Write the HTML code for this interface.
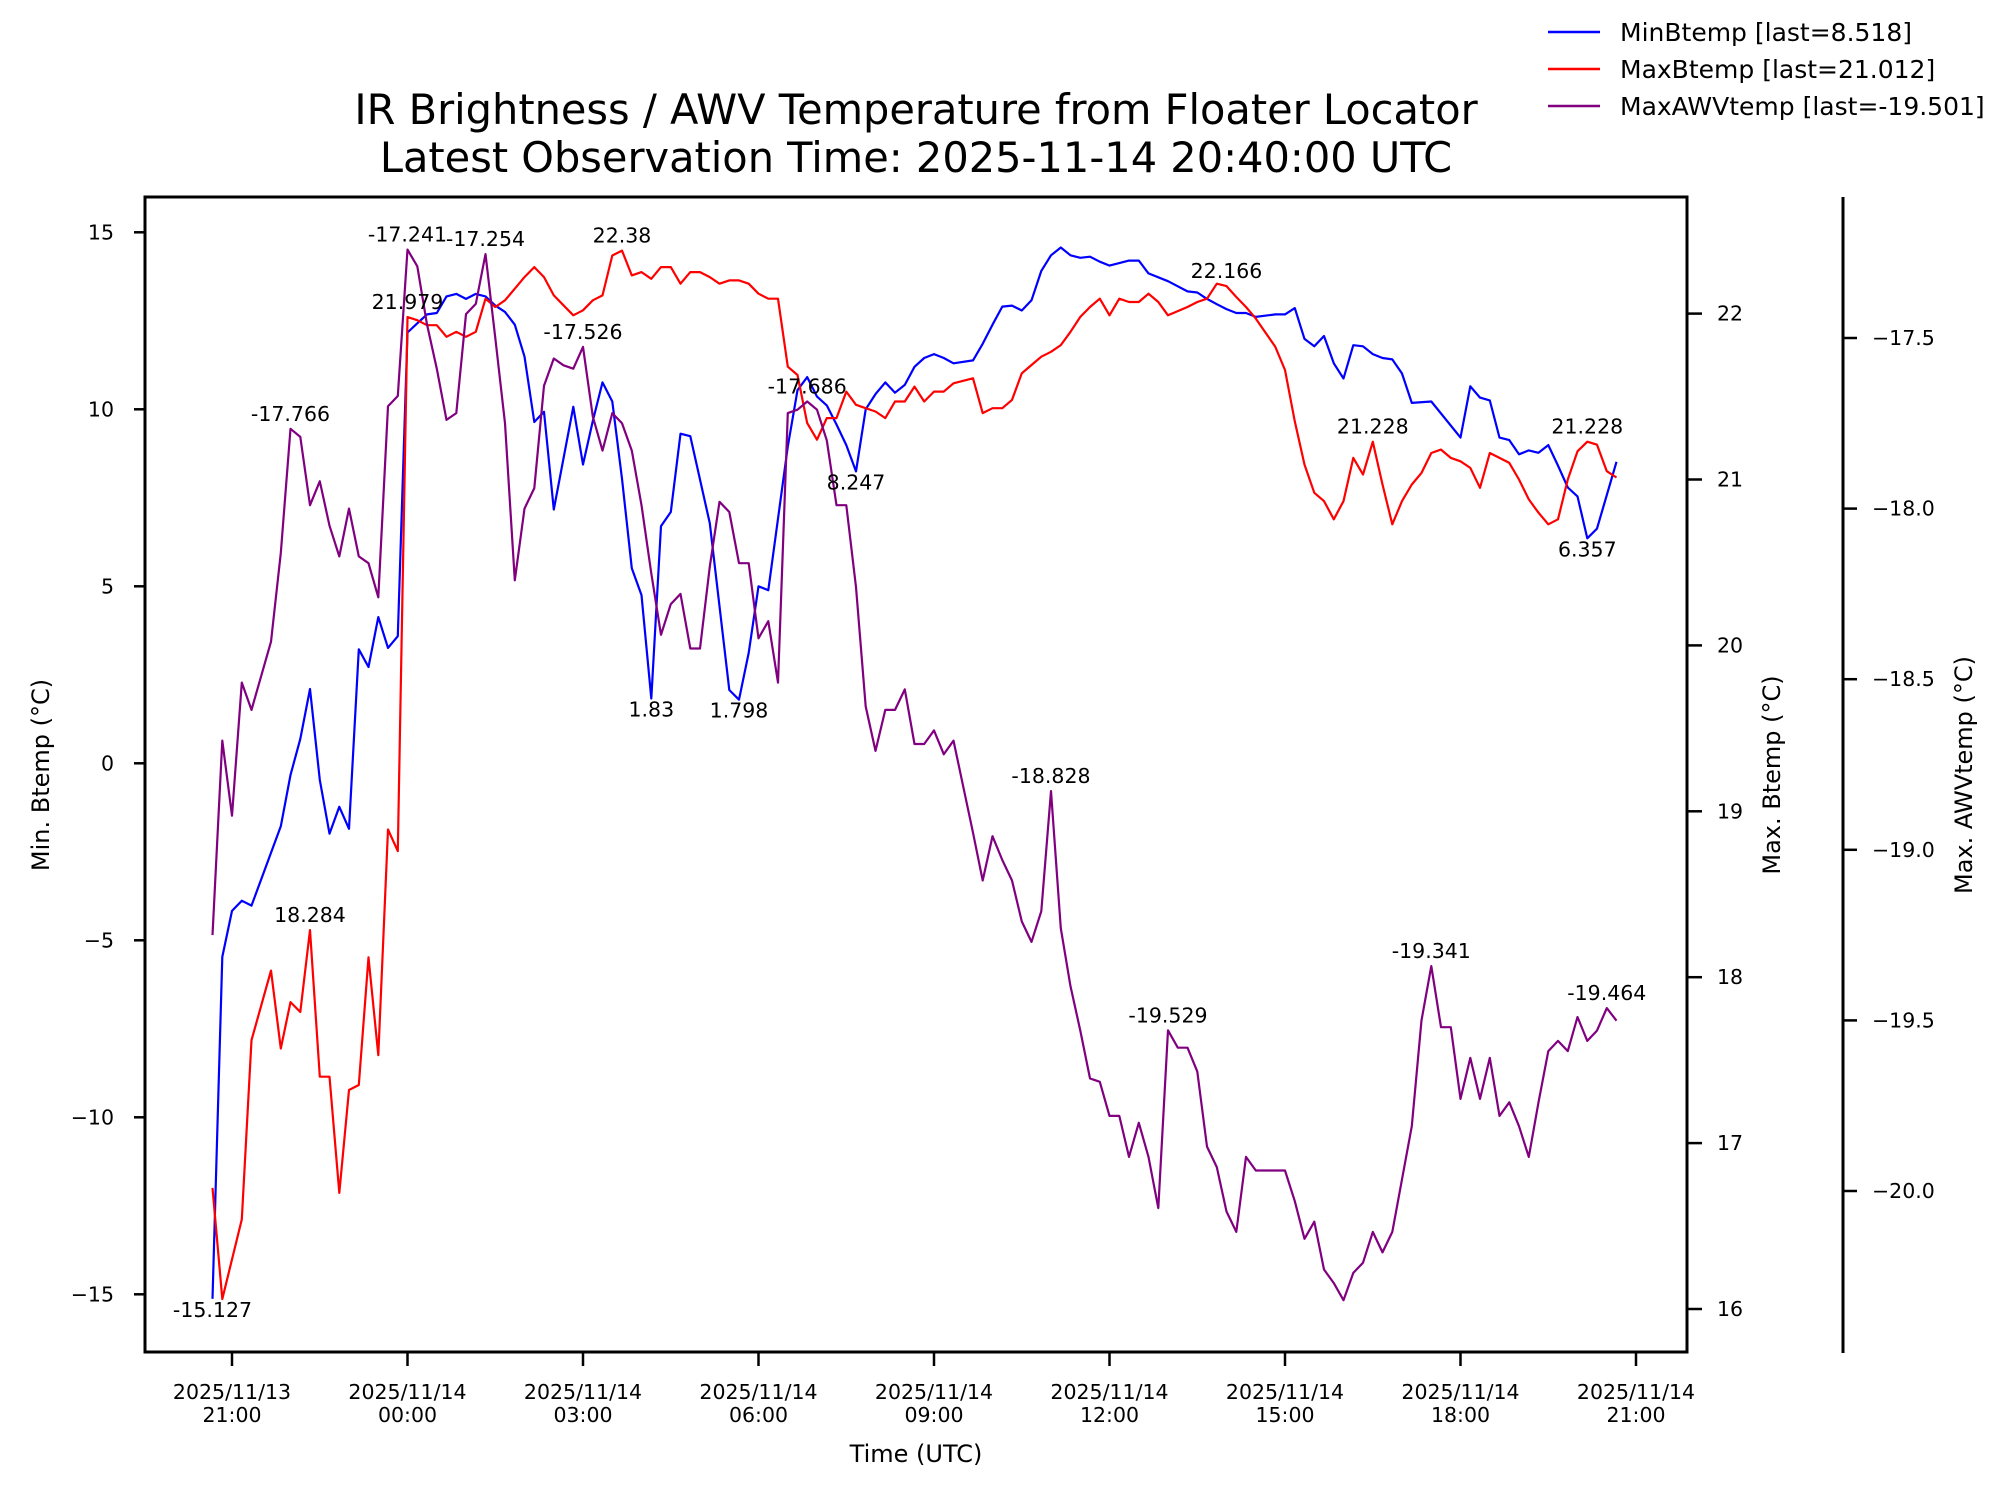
<!DOCTYPE html>
<html><head><meta charset="utf-8">
<style>
html,body{margin:0;padding:0;background:#fff;}
svg{display:block;font-family:"DejaVu Sans","Liberation Sans",sans-serif;}
</style></head>
<body>
<svg id="chart" width="2005" height="1495" viewBox="0 0 2005 1495" xmlns="http://www.w3.org/2000/svg">
<rect width="2005" height="1495" fill="#fff"/>
<text x="916" y="124" font-size="41.5" text-anchor="middle">IR Brightness / AWV Temperature from Floater Locator</text>
<text x="916" y="172" font-size="41.5" text-anchor="middle">Latest Observation Time: 2025-11-14 20:40:00 UTC</text>
<g id="legend">
<line x1="1548" y1="32" x2="1600" y2="32" stroke="#0000ff" stroke-width="2.5"/>
<text x="1620" y="41" font-size="25">MinBtemp [last=8.518]</text>
<line x1="1548" y1="69" x2="1600" y2="69" stroke="#ff0000" stroke-width="2.5"/>
<text x="1620" y="78" font-size="25">MaxBtemp [last=21.012]</text>
<line x1="1548" y1="106" x2="1600" y2="106" stroke="#800080" stroke-width="2.5"/>
<text x="1620" y="115" font-size="25">MaxAWVtemp [last=-19.501]</text>
</g>
<defs><clipPath id="plotclip"><rect x="145" y="197" width="1542" height="1155"/></clipPath></defs>
<g id="series" clip-path="url(#plotclip)"></g>
<g id="annots"></g>
<g id="axes"></g>
<text x="916" y="1462" font-size="24" text-anchor="middle">Time (UTC)</text>
<text transform="translate(49,775) rotate(-90)" font-size="24" text-anchor="middle">Min. Btemp (°C)</text>
<text transform="translate(1780,775) rotate(-90)" font-size="24" text-anchor="middle">Max. Btemp (°C)</text>
<text transform="translate(1972,775) rotate(-90)" font-size="24" text-anchor="middle">Max. AWVtemp (°C)</text>
</svg>
<script>
// ---- data (index = 10-minute steps from 2025/11/13 20:40 UTC) ----
const minIdx = [0,1,2,3,4,7,8,9,10,11,12,13,14,15,16,17,18,19,20,21,22,23,24,25,26,27,28,29,30,31,32,33,34,35,37,38,39,40,41,42,43,44,45,46,47,48,49,51,53,54,55,56,57,59,60,61,62,63,64,65,66,67,68,69,70,71,72,73,74,75,76,78,79,80,81,82,83,84,85,86,87,88,89,90,91,92,93,94,95,96,98,100,101,102,103,104,105,106,107,109,110,111,112,113,114,115,116,117,118,119,120,121,122,123,125,128,129,130,131,132,133,134,135,136,137,138,139,140,141,142,144];
const minVals = [-15.127,-5.47,-4.17,-3.88,-4.02,-1.78,-0.33,0.69,2.10,-0.47,-1.99,-1.23,-1.85,3.22,2.72,4.13,3.26,3.59,12.17,12.43,12.68,12.72,13.19,13.26,13.12,13.26,13.19,12.93,12.75,12.39,11.49,9.64,9.93,7.17,10.07,8.44,9.67,10.76,10.22,8.04,5.51,4.75,1.83,6.70,7.10,9.31,9.24,6.78,2.07,1.798,3.12,5.00,4.89,8.95,10.54,10.91,10.36,10.11,9.57,8.99,8.247,10.00,10.43,10.76,10.47,10.69,11.20,11.45,11.56,11.45,11.30,11.38,11.85,12.39,12.90,12.93,12.79,13.08,13.91,14.35,14.57,14.35,14.28,14.31,14.17,14.06,14.13,14.20,14.20,13.84,13.62,13.33,13.30,13.12,12.97,12.83,12.72,12.72,12.61,12.68,12.68,12.86,11.99,11.78,12.07,11.30,10.87,11.81,11.78,11.56,11.45,11.41,11.01,10.18,10.22,9.20,10.65,10.33,10.25,9.20,9.13,8.73,8.84,8.77,8.99,8.41,7.79,7.54,6.357,6.63,8.518];
const maxIdx = [0,1,3,4,6,7,8,9,10,11,12,13,14,15,16,17,18,19,20,21,22,23,24,25,26,27,28,29,30,31,32,33,34,35,36,37,38,39,40,41,42,43,44,45,46,47,48,49,50,51,52,53,54,55,56,57,58,59,60,61,62,63,64,65,66,67,68,69,70,71,72,73,74,75,76,78,79,80,81,82,83,84,85,86,87,88,89,90,91,92,93,94,95,96,97,98,100,101,102,103,104,105,106,107,109,110,111,112,113,114,115,116,117,118,119,120,121,122,123,124,125,126,127,128,129,130,131,132,133,134,135,136,137,138,139,140,141,142,143,144];
const maxVals = [16.73,16.06,16.54,17.62,18.04,17.57,17.85,17.79,18.284,17.40,17.40,16.70,17.32,17.35,18.12,17.53,18.89,18.76,21.979,21.96,21.93,21.93,21.86,21.89,21.86,21.89,22.09,22.04,22.08,22.15,22.22,22.28,22.22,22.11,22.05,21.99,22.02,22.08,22.11,22.35,22.38,22.23,22.25,22.21,22.28,22.28,22.18,22.25,22.25,22.22,22.18,22.20,22.20,22.18,22.12,22.09,22.09,21.68,21.63,21.34,21.24,21.37,21.37,21.53,21.45,21.43,21.41,21.37,21.47,21.47,21.56,21.47,21.53,21.53,21.58,21.61,21.40,21.43,21.43,21.48,21.64,21.69,21.74,21.77,21.81,21.89,21.98,22.04,22.09,21.99,22.09,22.07,22.07,22.12,22.07,21.99,22.04,22.07,22.09,22.18,22.166,22.10,22.04,21.97,21.80,21.66,21.35,21.09,20.92,20.87,20.76,20.87,21.13,21.03,21.228,20.97,20.73,20.87,20.97,21.04,21.16,21.18,21.13,21.11,21.07,20.95,21.16,21.13,21.10,21.00,20.88,20.80,20.73,20.76,21.00,21.17,21.228,21.21,21.05,21.012];
const awvIdx = [0,1,2,3,4,6,7,8,9,10,11,12,13,14,15,16,17,18,19,20,21,22,23,24,25,26,27,28,29,30,31,32,33,34,35,36,37,38,39,40,41,42,43,44,45,46,47,48,49,50,51,52,53,54,55,56,57,58,59,60,61,62,63,64,65,66,67,68,69,70,71,72,73,74,75,76,78,79,80,81,82,83,84,85,86,87,88,89,90,91,92,93,94,95,96,97,98,99,100,101,102,103,104,105,106,107,110,111,112,113,114,115,116,117,118,119,120,121,123,124,125,126,127,128,129,130,131,132,133,134,135,136,137,138,139,140,141,142,143,144];
const awvVals = [-19.25,-18.68,-18.90,-18.51,-18.59,-18.39,-18.13,-17.766,-17.79,-17.99,-17.92,-18.05,-18.14,-18.00,-18.14,-18.16,-18.26,-17.70,-17.67,-17.241,-17.29,-17.46,-17.59,-17.74,-17.72,-17.43,-17.40,-17.254,-17.50,-17.75,-18.21,-18.00,-17.94,-17.64,-17.56,-17.58,-17.59,-17.526,-17.73,-17.83,-17.72,-17.75,-17.83,-17.99,-18.19,-18.37,-18.28,-18.25,-18.41,-18.41,-18.17,-17.98,-18.01,-18.16,-18.16,-18.38,-18.33,-18.51,-17.72,-17.71,-17.686,-17.71,-17.80,-17.99,-17.99,-18.23,-18.58,-18.71,-18.59,-18.59,-18.53,-18.69,-18.69,-18.65,-18.72,-18.68,-18.95,-19.09,-18.96,-19.03,-19.09,-19.21,-19.27,-19.18,-18.828,-19.23,-19.40,-19.53,-19.67,-19.68,-19.78,-19.78,-19.90,-19.80,-19.90,-20.05,-19.529,-19.58,-19.58,-19.65,-19.87,-19.93,-20.06,-20.12,-19.90,-19.94,-19.94,-20.03,-20.14,-20.09,-20.23,-20.27,-20.32,-20.24,-20.21,-20.12,-20.18,-20.12,-19.81,-19.50,-19.341,-19.52,-19.52,-19.73,-19.61,-19.73,-19.61,-19.78,-19.74,-19.81,-19.90,-19.74,-19.59,-19.56,-19.59,-19.49,-19.56,-19.53,-19.464,-19.501];
const leftTicks = [-15,-10,-5,0,5,10,15];
const rightTicks = [16,17,18,19,20,21,22];
const awvTicks = [-20.0,-19.5,-19.0,-18.5,-18.0,-17.5];
const xTickHours = [0,3,6,9,12,15,18,21,24];
const xTickLabels = [["2025/11/13","21:00"],["2025/11/14","00:00"],["2025/11/14","03:00"],["2025/11/14","06:00"],["2025/11/14","09:00"],["2025/11/14","12:00"],["2025/11/14","15:00"],["2025/11/14","18:00"],["2025/11/14","21:00"]];
const annSeries = ["min","min","min","min","min","max","max","max","max","max","max","awv","awv","awv","awv","awv","awv","awv","awv","awv"];
const annIndex = [0,45,54,66,141,10,20,42,104,119,141,8,20,28,38,61,86,98,125,143];
const annLabel = ["-15.127","1.83","1.798","8.247","6.357","18.284","21.979","22.38","22.166","21.228","21.228","-17.766","-17.241","-17.254","-17.526","-17.686","-18.828","-19.529","-19.341","-19.464"];
const annBelow = [1,1,1,1,1,0,0,0,0,0,0,0,0,0,0,0,0,0,0,0];

// ---- scales ----
const NS = "http://www.w3.org/2000/svg";
function xT(h){ return 232 + 58.5*h; }
function xIdx(i){ return xT(-1/3 + i/6); }
function yL(v){ return 763.3 - 35.4*v; }
function yR(v){ return 1309 - 165.9*(v-16); }
function yA(v){ return 1191 - 341.2*(v+20); }
const scales = {min:yL, max:yR, awv:yA};
const idxs = {min:minIdx, max:maxIdx, awv:awvIdx};
const vals = {min:minVals, max:maxVals, awv:awvVals};
function mk(tag, attrs, parent){ const e=document.createElementNS(NS,tag); for(const k in attrs) e.setAttribute(k,attrs[k]); parent.appendChild(e); return e; }

const sg = document.getElementById('series');
const colors = {min:"#0000ff", max:"#ff0000", awv:"#800080"};
["min","max","awv"].forEach(s=>{
  const pts = idxs[s].map((ix,k)=>xIdx(ix).toFixed(1)+","+scales[s](vals[s][k]).toFixed(1)).join(" ");
  const pl = mk('polyline',{points:pts,fill:"none",stroke:colors[s],"stroke-width":"2.2","stroke-linejoin":"round"},sg);
  
  
});

const ag = document.getElementById('annots');
annSeries.forEach((s,k)=>{
  const pos = idxs[s].indexOf(annIndex[k]);
  const v = vals[s][pos];
  const x = xIdx(annIndex[k]), y = scales[s](v);
  const t = mk('text',{x:x.toFixed(1), y:(annBelow[k]? y+18 : y-8).toFixed(1), "font-size":"20.5","text-anchor":"middle"},ag);
  t.textContent = annLabel[k];
  
  
});

const ax = document.getElementById('axes');
const frame = mk('rect',{x:145,y:197,width:1542,height:1155,fill:"none",stroke:"#000","stroke-width":"3"},ax);


leftTicks.forEach(v=>{
  const y=yL(v);
  const l = mk('line',{x1:134,y1:y,x2:145,y2:y,stroke:"#000","stroke-width":"2.5"},ax);
  
  
  const t = mk('text',{x:114,y:y+7,"font-size":"20.5","text-anchor":"end"},ax);
  t.textContent = v<0 ? "\u2212"+Math.abs(v) : String(v);
  
  
});
rightTicks.forEach(v=>{
  const y=yR(v);
  const l = mk('line',{x1:1687,y1:y,x2:1702,y2:y,stroke:"#000","stroke-width":"2.5"},ax);
  
  
  const t = mk('text',{x:1717,y:y+7,"font-size":"20.5"},ax);
  t.textContent = String(v);
  
  
});
const awvAxis = mk('line',{x1:1843,y1:197,x2:1843,y2:1353,stroke:"#000","stroke-width":"3"},ax);


awvTicks.forEach(v=>{
  const y=yA(v);
  const l = mk('line',{x1:1843,y1:y,x2:1857,y2:y,stroke:"#000","stroke-width":"2.5"},ax);
  
  
  const t = mk('text',{x:1872,y:y+7,"font-size":"20.5"},ax);
  t.textContent = "\u2212"+Math.abs(v).toFixed(1);
  
  
});
xTickHours.forEach((h,k)=>{
  const x=xT(h);
  const l = mk('line',{x1:x,y1:1352,x2:x,y2:1366,stroke:"#000","stroke-width":"2.5"},ax);
  
  
  const t1 = mk('text',{x:x,y:1399,"font-size":"20.5","text-anchor":"middle"},ax);
  t1.textContent = xTickLabels[k][0];
  
  
  const t2 = mk('text',{x:x,y:1422,"font-size":"20.5","text-anchor":"middle"},ax);
  t2.textContent = xTickLabels[k][1];
  
  
});
</script>
</body></html>
